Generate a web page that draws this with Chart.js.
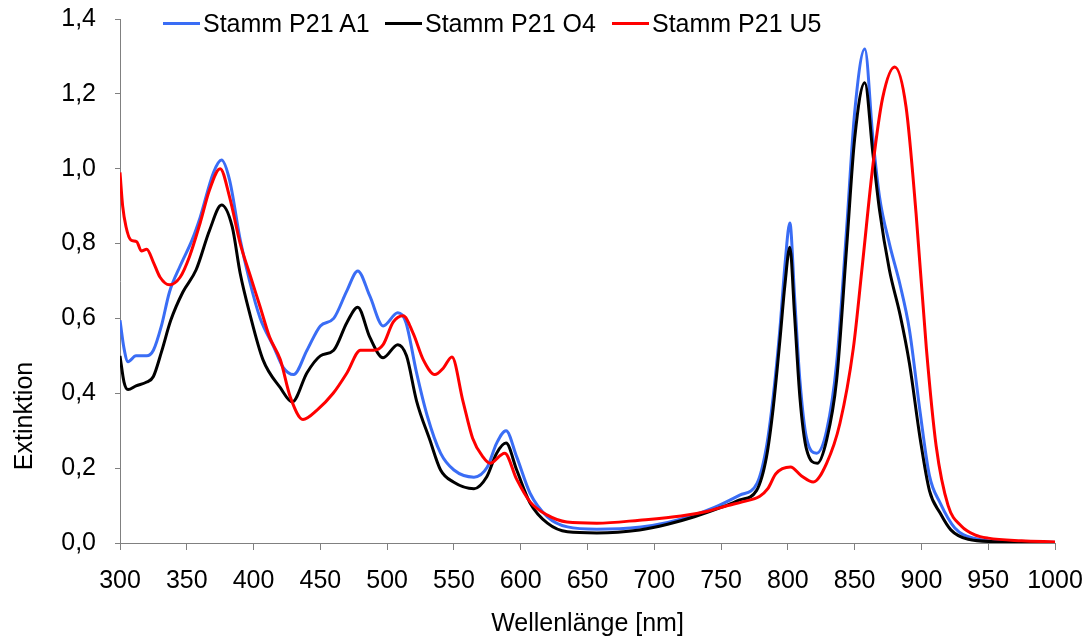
<!DOCTYPE html>
<html>
<head>
<meta charset="utf-8">
<script src="https://cdn.jsdelivr.net/npm/chart.js@4.4.0/dist/chart.umd.min.js"></script>
<style>
  body { margin: 0; background: #fff; }
  #wrap { position: relative; width: 1087px; height: 641px; font-family: "Liberation Sans", Arial, sans-serif; }
  .lgLine { position: absolute; height: 3px; width: 37px; }
  .lgText { position: absolute; font-size: 25px; line-height: 25px; color: #000; white-space: nowrap; }
  #yTitle { position: absolute; left: -77.5px; top: 401px; width: 200px; height: 30px; line-height: 30px;
            text-align: center; font-size: 25px; transform: rotate(-90deg); }
</style>
</head>
<body>
<div id="wrap">
  <canvas id="spectrum" width="1087" height="641"></canvas>
  <div class="lgLine" style="left:163px;top:22px;background:#3A6DF5"></div>
  <div class="lgText" style="left:203px;top:11px">Stamm P21 A1</div>
  <div class="lgLine" style="left:385px;top:22px;background:#000"></div>
  <div class="lgText" style="left:425px;top:11px">Stamm P21 O4</div>
  <div class="lgLine" style="left:612px;top:22px;background:#FF0000"></div>
  <div class="lgText" style="left:652px;top:11px">Stamm P21 U5</div>
  <div id="yTitle">Extinktion</div>
</div>
<script>
// Stamm P21 A1
const a1Nm = [300, 303, 306, 312, 320, 325, 331, 337, 345, 354, 360, 370, 376, 382, 390, 397, 405, 415, 422, 430,
  440, 450, 460, 470, 478, 487, 497, 508, 514, 522, 530, 540, 550, 565, 575, 582, 589, 597, 607, 620,
  635, 657, 690, 710, 730, 745, 764, 777, 784, 789, 794, 798, 801.5, 805, 809, 814, 821.5, 829, 836.5, 844,
  850, 857.6, 863.7, 868.6, 876, 884, 891, 899, 906, 914, 925, 940, 960, 1000];
const a1Ext = [0.595, 0.52, 0.484, 0.50, 0.50, 0.515, 0.58, 0.67, 0.74, 0.81, 0.87, 0.99, 1.023, 0.97, 0.81, 0.70, 0.60, 0.525, 0.47, 0.45,
  0.515, 0.58, 0.60, 0.675, 0.727, 0.66, 0.58, 0.615, 0.59, 0.455, 0.34, 0.24, 0.195, 0.176, 0.203, 0.267, 0.30, 0.23, 0.133, 0.07,
  0.043, 0.037, 0.043, 0.055, 0.075, 0.095, 0.128, 0.16, 0.257, 0.39, 0.57, 0.75, 0.855, 0.66, 0.435, 0.28, 0.24, 0.30, 0.48, 0.84,
  1.15, 1.32, 1.08, 0.925, 0.80, 0.69, 0.57, 0.35, 0.18, 0.107, 0.04, 0.012, 0.004, 0.002];

// Stamm P21 O4
const o4Nm = [300, 303, 306, 312, 320, 325, 331, 338, 347, 357, 367, 376, 384, 390, 397, 407, 420, 429, 440, 450,
  460, 470, 478, 487, 497, 508, 514.5, 522, 532, 540, 549.6, 565, 574.6, 582, 589, 597, 607, 620, 635, 657,
  689, 710, 730, 750, 764, 776.5, 784, 789, 794, 797.8, 801.5, 805, 809, 814, 822, 829, 836.5, 844, 850, 857.6,
  863.7, 868.6, 876, 884, 891, 899, 906, 914, 922, 935, 960, 1000];
const o4Ext = [0.50, 0.43, 0.41, 0.42, 0.43, 0.445, 0.51, 0.595, 0.67, 0.73, 0.835, 0.903, 0.845, 0.72, 0.615, 0.49, 0.415, 0.377, 0.455, 0.50,
  0.515, 0.59, 0.63, 0.55, 0.495, 0.53, 0.50, 0.38, 0.275, 0.195, 0.163, 0.145, 0.177, 0.24, 0.267, 0.195, 0.107, 0.053, 0.03, 0.027,
  0.035, 0.05, 0.07, 0.095, 0.115, 0.14, 0.23, 0.36, 0.54, 0.69, 0.79, 0.61, 0.39, 0.25, 0.213, 0.275, 0.435, 0.79, 1.08, 1.23,
  1.04, 0.89, 0.73, 0.61, 0.48, 0.28, 0.14, 0.08, 0.035, 0.01, 0.003, 0.001];

// Stamm P21 U5
const u5Nm = [300, 302, 304.5, 308, 312.5, 316, 320, 325, 330, 337, 345, 352, 360, 367, 375, 382, 390, 397, 405, 412,
  420, 427.5, 437, 447.5, 459.6, 470, 480, 490, 497, 504.5, 512, 519.5, 527, 535.7, 542, 548.5, 556.7, 564, 571.7, 577,
  588, 597, 607, 619.6, 634.6, 657, 689, 720, 740, 755, 766, 779, 785, 791, 802, 810, 819, 829, 839, 849, 856,
  863.7, 871, 880, 888.5, 896, 903.7, 911, 920, 930, 940, 950, 975, 1000];
const u5Ext = [0.99, 0.90, 0.845, 0.81, 0.805, 0.78, 0.785, 0.75, 0.71, 0.69, 0.71, 0.765, 0.855, 0.943, 1.0, 0.925, 0.80, 0.72, 0.63, 0.55,
  0.49, 0.39, 0.33, 0.355, 0.40, 0.455, 0.515, 0.515, 0.53, 0.59, 0.607, 0.56, 0.49, 0.45, 0.467, 0.497, 0.38, 0.28, 0.23, 0.213,
  0.24, 0.17, 0.11, 0.075, 0.056, 0.053, 0.061, 0.072, 0.085, 0.10, 0.11, 0.125, 0.145, 0.185, 0.203, 0.18, 0.163, 0.213, 0.32, 0.52, 0.75,
  1.01, 1.19, 1.272, 1.165, 0.88, 0.52, 0.26, 0.10, 0.045, 0.022, 0.013, 0.006, 0.003];

const xTicks = [300, 350, 400, 450, 500, 550, 600, 650, 700, 750, 800, 850, 900, 950, 1000];
const yTicks = [0, 0.2, 0.4, 0.6, 0.8, 1.0, 1.2, 1.4];

const toPoints = (xs, ys) => xs.map((x, i) => ({x: x, y: ys[i]}));

const axisGray = '#808080';
const font = {family: '"Liberation Sans", Arial, sans-serif', size: 25};

new Chart(document.getElementById('spectrum'), {
  type: 'line',
  data: {
    datasets: [
      {label: 'Stamm P21 A1', data: toPoints(a1Nm, a1Ext), borderColor: '#3A6DF5', order: 3},
      {label: 'Stamm P21 O4', data: toPoints(o4Nm, o4Ext), borderColor: '#000000', order: 2},
      {label: 'Stamm P21 U5', data: toPoints(u5Nm, u5Ext), borderColor: '#FF0000', order: 1}
    ]
  },
  options: {
    responsive: false,
    animation: false,
    devicePixelRatio: 1,
    layout: {padding: {top: 19, right: 32, bottom: 0, left: 0}},
    elements: {
      line: {borderWidth: 3, cubicInterpolationMode: 'monotone', fill: false},
      point: {radius: 0}
    },
    plugins: {legend: {display: false}, tooltip: {enabled: false}},
    scales: {
      x: {
        type: 'linear', min: 300, max: 1000,
        afterBuildTicks: (s) => { s.ticks = xTicks.map(v => ({value: v})); },
        afterFit: (s) => { s.height = 98; s.paddingLeft = 0; s.paddingRight = 0; },
        grid: {drawOnChartArea: false, tickLength: 7, color: axisGray},
        border: {color: axisGray, width: 1},
        ticks: {color: '#000', font: font, padding: 16, maxRotation: 0, callback: (v) => String(v)},
        title: {display: true, text: 'Wellenlänge [nm]', color: '#000', font: font, padding: {top: 0, bottom: 2}}
      },
      y: {
        min: 0, max: 1.4,
        afterBuildTicks: (s) => { s.ticks = yTicks.map(v => ({value: v})); },
        afterFit: (s) => { s.width = 120; s.paddingTop = 0; s.paddingBottom = 0; },
        grid: {drawOnChartArea: false, tickLength: 5, color: axisGray},
        border: {color: axisGray, width: 1},
        ticks: {color: '#000', font: font, padding: 19,
          callback: (v) => v.toFixed(1).replace('.', ',')}
      }
    }
  }
});
</script>
</body>
</html>
